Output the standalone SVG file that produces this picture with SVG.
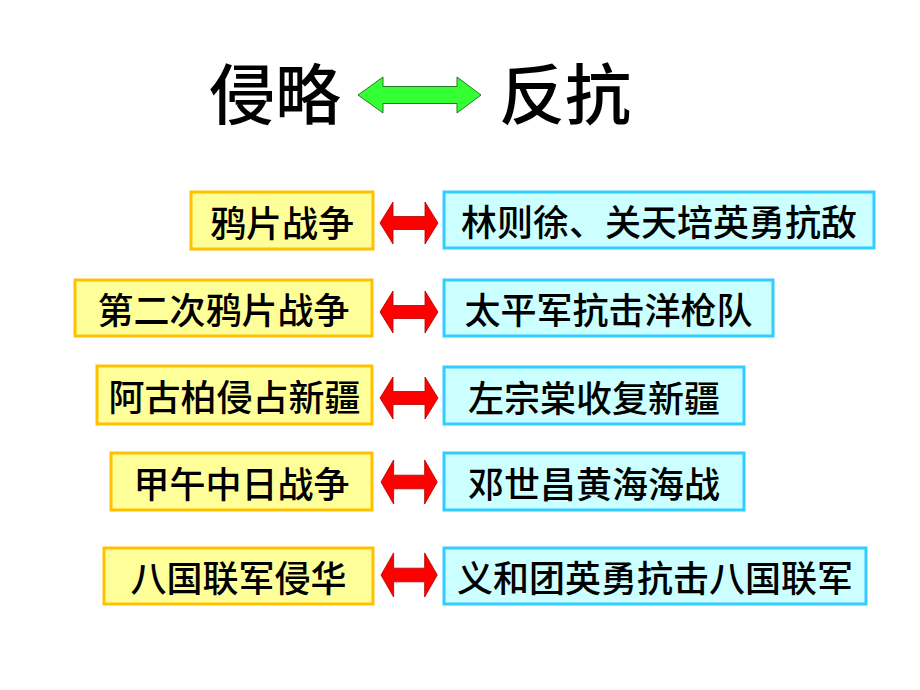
<svg xmlns="http://www.w3.org/2000/svg" xmlns:xlink="http://www.w3.org/1999/xlink" width="920" height="690" viewBox="0 0 920 690">
<style>
.t{font-family:"Noto Sans CJK SC","Noto Sans CJK TC",sans-serif;fill:#000;text-anchor:middle;dominant-baseline:central}
.title{font-size:66px;font-weight:500}
.lbl{font-size:36px;font-weight:500}
.y{fill:#FFFF99;stroke:#FFC000;stroke-width:3}
.b{fill:#CCFFFF;stroke:#33CCFF;stroke-width:3}
.ra{fill:#FF0000;stroke:#B00000;stroke-width:0.8}
.ga{fill:#33FF33;stroke:#2A7A2A;stroke-width:1}
</style>
<defs>
<path id="red" class="ra" d="M0,0 L13,-21 L13,-6.5 L45,-6.5 L45,-21 L58,0 L45,21 L45,6.5 L13,6.5 L13,21 Z"/>
</defs>
<rect width="920" height="690" fill="#fff"/>
<g id="title">
<text class="t title" x="275" y="90">侵略</text>
<text class="t title" x="565" y="90">反抗</text>
</g>
<g id="connectors">
<path id="green-arrow" class="ga" d="M358,95 L383,77 L383,86.5 L457,86.5 L457,77 L481,95 L457,113 L457,103.5 L383,103.5 L383,113 Z"/>
<use xlink:href="#red" transform="translate(380,223)"/>
<use xlink:href="#red" transform="translate(380,312)"/>
<use xlink:href="#red" transform="translate(380,398)"/>
<use xlink:href="#red" transform="translate(381,482) scale(0.97,1.05)"/>
<use xlink:href="#red" transform="translate(381,575) scale(0.97,1.05)"/>
</g>
<g id="n1a"><rect class="y" x="191" y="192" width="182" height="57"/><text class="t lbl" x="282" y="220.5">鸦片战争</text></g>
<g id="n1b"><rect class="b" x="444" y="192" width="430" height="56"/><text class="t lbl" x="659" y="220">林则徐、关天培英勇抗敌</text></g>
<g id="n2a"><rect class="y" x="75" y="280" width="297" height="56"/><text class="t lbl" x="223.5" y="308">第二次鸦片战争</text></g>
<g id="n2b"><rect class="b" x="444" y="280" width="329" height="56"/><text class="t lbl" x="608.5" y="308">太平军抗击洋枪队</text></g>
<g id="n3a"><rect class="y" x="97" y="366" width="275" height="58"/><text class="t lbl" x="234.5" y="395">阿古柏侵占新疆</text></g>
<g id="n3b"><rect class="b" x="444" y="367" width="300" height="57"/><text class="t lbl" x="594" y="395.5">左宗棠收复新疆</text></g>
<g id="n4a"><rect class="y" x="111" y="453" width="261" height="57"/><text class="t lbl" x="241.5" y="481.5">甲午中日战争</text></g>
<g id="n4b"><rect class="b" x="444" y="453" width="300" height="57"/><text class="t lbl" x="594" y="481.5">邓世昌黄海海战</text></g>
<g id="n5a"><rect class="y" x="104" y="548" width="269" height="56"/><text class="t lbl" x="238.5" y="576">八国联军侵华</text></g>
<g id="n5b"><rect class="b" x="444" y="548" width="422" height="56"/><text class="t lbl" x="655" y="576">义和团英勇抗击八国联军</text></g>
</svg>
